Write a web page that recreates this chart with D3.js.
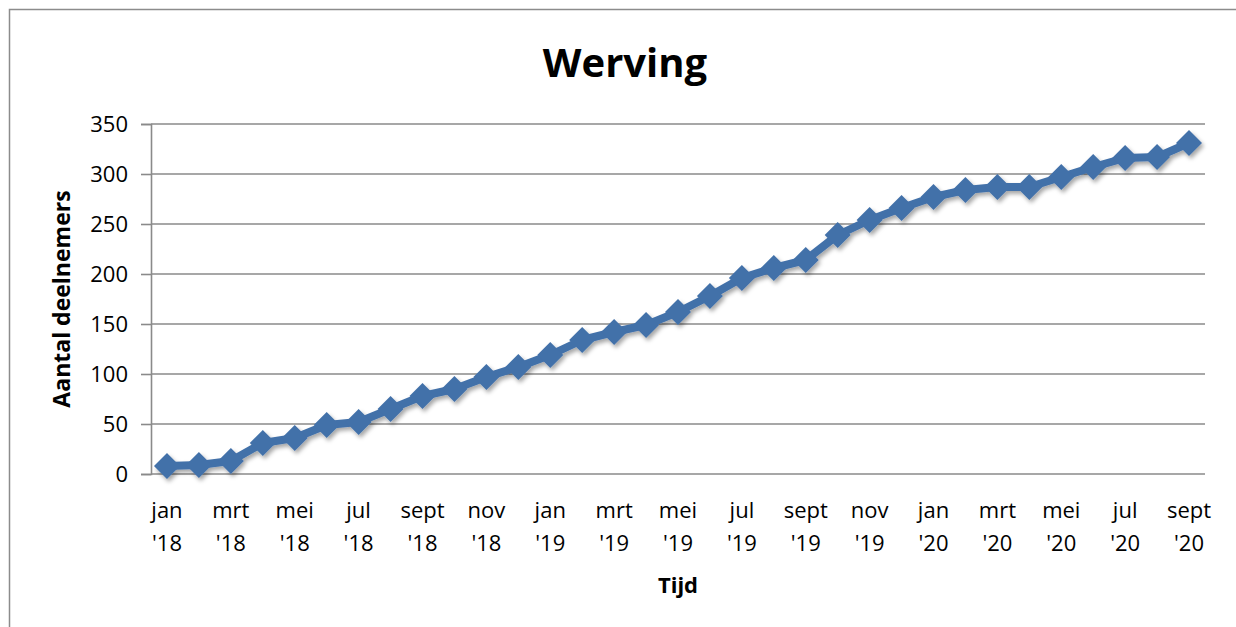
<!DOCTYPE html>
<html>
<head>
<meta charset="utf-8">
<script src="https://cdn.jsdelivr.net/npm/d3@7"></script>
<style>
  html, body { margin: 0; padding: 0; background: #fff; }
  svg { display: block; }
  text { font-family: "Open Sans", "Liberation Sans", sans-serif; fill: #000; }
</style>
</head>
<body>
<svg id="chart" width="1236" height="627"></svg>
<script>
// ---- data ----
const months = ["jan","feb","mrt","apr","mei","jun","jul","aug","sept","okt","nov","dec",
                "jan","feb","mrt","apr","mei","jun","jul","aug","sept","okt","nov","dec",
                "jan","feb","mrt","apr","mei","jun","jul","aug","sept"];
const years = ["'18","'18","'18","'18","'18","'18","'18","'18","'18","'18","'18","'18",
               "'19","'19","'19","'19","'19","'19","'19","'19","'19","'19","'19","'19",
               "'20","'20","'20","'20","'20","'20","'20","'20","'20"];
const deelnemers = [8, 9, 13, 31, 36, 49, 52, 65, 78, 85, 97, 107,
                    119, 134, 142, 149, 162, 178, 196, 206, 214, 239, 254, 266,
                    277, 284, 287, 287, 297, 307, 316, 317, 331];
const yTicks = [0, 50, 100, 150, 200, 250, 300, 350];
const title = "Werving";
const yTitle = "Aantal deelnemers";
const xTitle = "Tijd";

const categories = months.map((m, i) => m + " " + years[i]);
const data = categories.map((c, i) => ({ c, m: months[i], y: years[i], v: deelnemers[i] }));

// ---- layout ----
const svg = d3.select("#chart");
const L = 151, R = 1205, T = 124, B = 474;

const x = d3.scaleBand().domain(categories).range([L, R]).paddingInner(0).paddingOuter(0);
const y = d3.scaleLinear().domain([0, 350]).range([B, T]);
const cx = c => x(c) + x.bandwidth() / 2;

// defs: shadow
const defs = svg.append("defs");
const f = defs.append("filter").attr("id", "shadow")
  .attr("x", "-20%").attr("y", "-20%").attr("width", "140%").attr("height", "160%");
f.append("feDropShadow").attr("dx", 2).attr("dy", 3).attr("stdDeviation", 2)
  .attr("flood-color", "#000").attr("flood-opacity", 0.35);

// outer border
svg.append("rect").attr("x", 9.5).attr("y", 9.5).attr("width", 1300).attr("height", 700)
  .attr("fill", "none").attr("stroke", "#8c8c8c").attr("stroke-width", 1.5);

// title
svg.append("text").attr("x", 625).attr("y", 77).attr("text-anchor", "middle")
  .style("font-size", "40px").style("font-weight", "700").text(title);

// gridlines
svg.append("g").selectAll("line").data(yTicks).join("line")
  .attr("x1", L).attr("x2", R).attr("y1", d => y(d)).attr("y2", d => y(d))
  .attr("stroke", "#8a8a8a").attr("stroke-width", 1.6);

// y axis
const yAxis = svg.append("g").attr("transform", `translate(${L},0)`)
  .call(d3.axisLeft(y).tickValues(yTicks).tickSize(10).tickPadding(13).tickFormat(d3.format("d")));
yAxis.select(".domain").attr("stroke", "#8a8a8a").attr("stroke-width", 1.6);
yAxis.selectAll(".tick line").attr("stroke", "#8a8a8a").attr("stroke-width", 1.6);
yAxis.selectAll(".tick text").style("font-size", "22px").style("font-family", "Open Sans").attr("fill", "#000")
  .attr("dy", "0.35em");

// x axis (labels every other month, two lines)
const xAxis = svg.append("g").attr("transform", `translate(0,${B})`)
  .call(d3.axisBottom(x).tickValues(categories.filter((c, i) => i % 2 === 0)).tickSize(0).tickFormat(""));
xAxis.select(".domain").remove();
xAxis.selectAll(".tick").each(function(c) {
  const i = categories.indexOf(c);
  const t = d3.select(this).append("text").attr("text-anchor", "middle")
    .style("font-size", "22px").attr("fill", "#000");
  t.append("tspan").attr("x", 0).attr("y", 44).text(months[i]);
  t.append("tspan").attr("x", 0).attr("y", 77).text(years[i]);
});

// axis titles
svg.append("text").attr("transform", `translate(70,${(T + B) / 2}) rotate(-90)`)
  .attr("text-anchor", "middle").style("font-size", "23px").style("font-weight", "700").text(yTitle);
svg.append("text").attr("x", (L + R) / 2).attr("y", 593).attr("text-anchor", "middle")
  .style("font-size", "22px").style("font-weight", "700").text(xTitle);

// line + markers
const color = "#4371a9";
const g = svg.append("g").attr("filter", "url(#shadow)");
g.append("path").datum(data)
  .attr("d", d3.line().x(d => cx(d.c)).y(d => y(d.v)))
  .attr("fill", "none").attr("stroke", color).attr("stroke-width", 8).attr("stroke-linejoin", "round");
const s = 13;
g.selectAll("path.mk").data(data).join("path").attr("class", "mk")
  .attr("d", d => `M${cx(d.c)},${y(d.v) - s}L${cx(d.c) + s},${y(d.v)}L${cx(d.c)},${y(d.v) + s}L${cx(d.c) - s},${y(d.v)}Z`)
  .attr("fill", color);
</script>
</body>
</html>
